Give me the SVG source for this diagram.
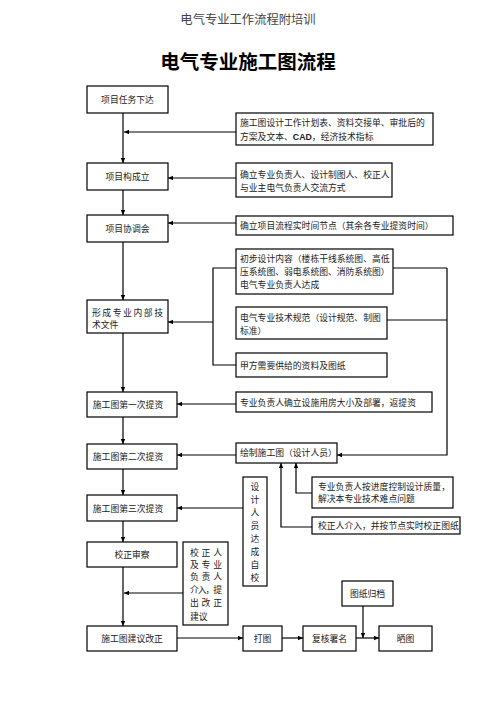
<svg xmlns="http://www.w3.org/2000/svg" width="496" height="702" viewBox="0 0 496 702">
<defs>
<marker id="ah" markerWidth="6" markerHeight="5" refX="5" refY="2.25" orient="auto" markerUnits="userSpaceOnUse">
<path d="M0,0 L5,2.25 L0,4.5 z" fill="#000"/>
</marker>
<style>
.b{fill:#fff;stroke:#000;stroke-width:1.2}
.t{font-family:"Noto Sans CJK SC","Noto Sans",sans-serif;font-size:8.8px;fill:#222}
.c{text-anchor:middle}
.l{fill:none;stroke:#000;stroke-width:1.2}
.a{fill:none;stroke:#000;stroke-width:1.2;marker-end:url(#ah)}
</style>
</defs>
<rect width="496" height="702" fill="#fff"/>
<text x="248" y="24" text-anchor="middle" font-family="Noto Sans CJK SC, sans-serif" font-size="12.3" fill="#444">电气专业工作流程附培训</text>
<text x="248" y="69" text-anchor="middle" font-family="Noto Sans CJK SC, sans-serif" font-size="19.5" font-weight="bold" fill="#000">电气专业施工图流程</text>

<g id="connectors">
<path class="a" d="M123,113 V163"/>
<path class="a" d="M123,190 V215"/>
<path class="a" d="M123,242 V300"/>
<path class="a" d="M123,333 V392"/>
<path class="a" d="M123,417 V444"/>
<path class="a" d="M123,469 V495"/>
<path class="a" d="M123,521 V542"/>
<path class="a" d="M123,567 V626"/>
<path class="a" d="M236,132 H124"/>
<path class="a" d="M236,178 H168"/>
<path class="a" d="M236,223 H168"/>
<path class="l" d="M236,268 H213 V365 H236"/>
<path class="a" d="M213,322 H168"/>
<path class="a" d="M236,404 H177"/>
<path class="a" d="M236,455 H177"/>
<path class="a" d="M243,508 H177"/>
<path class="a" d="M183,593 H124"/>
<path class="l" d="M393,268 H447"/>
<path class="l" d="M387,320 H447"/>
<path class="a" d="M447,268 V455 H337"/>
<path class="a" d="M312,493 H296 V463"/>
<path class="a" d="M312,527 H281 V463"/>
<path class="a" d="M177,638 H243"/>
<path class="a" d="M282,638 H303"/>
<path class="a" d="M356,638 H379"/>
<path class="a" d="M363,606 V638"/>
</g>

<g id="n1"><rect class="b" x="87" y="86" width="81" height="27"/><text class="t c" x="127.5" y="103">项目任务下达</text></g>
<g id="n2"><rect class="b" x="236" y="113" width="197" height="32"/><text class="t" x="240" y="126">施工图设计工作计划表、资料交接单、审批后的</text><text class="t" x="240" y="139.5">方案及文本、<tspan font-family="Liberation Sans, sans-serif" font-weight="bold">CAD</tspan>，经济技术指标</text></g>
<g id="n3"><rect class="b" x="87" y="163" width="81" height="27"/><text class="t c" x="127.5" y="180">项目构成立</text></g>
<g id="n4"><rect class="b" x="236" y="163" width="156" height="34"/><text class="t" x="240" y="178">确立专业负责人、设计制图人、校正人</text><text class="t" x="240" y="190.5">与业主电气负责人交流方式</text></g>
<g id="n5"><rect class="b" x="87" y="215" width="81" height="27"/><text class="t c" x="127.5" y="232">项目协调会</text></g>
<g id="n6"><rect class="b" x="236" y="216" width="217" height="19"/><text class="t" x="240" y="228.5">确立项目流程实时间节点（其余各专业提资时间）</text></g>
<g id="n7"><rect class="b" x="236" y="249" width="157" height="45"/><text class="t" x="240" y="261.5">初步设计内容（楼栋干线系统图、高低</text><text class="t" x="240" y="275">压系统图、弱电系统图、消防系统图）</text><text class="t" x="240" y="287.5">电气专业负责人达成</text></g>
<g id="n8"><rect class="b" x="87" y="300" width="81" height="33"/><text class="t" x="92" y="316" textLength="71" lengthAdjust="spacing">形成专业内部技</text><text class="t" x="92" y="328">术文件</text></g>
<g id="n9"><rect class="b" x="236" y="307" width="151" height="32"/><text class="t" x="240" y="320.5">电气专业技术规范（设计规范、制图</text><text class="t" x="240" y="333.5">标准）</text></g>
<g id="n10"><rect class="b" x="236" y="353" width="151" height="24"/><text class="t" x="240" y="369">甲方需要供给的资料及图纸</text></g>
<g id="n11"><rect class="b" x="87" y="392" width="90" height="25"/><text class="t c" x="128" y="408">施工图第一次提资</text></g>
<g id="n12"><rect class="b" x="236" y="392" width="196" height="20"/><text class="t" x="240" y="405.5">专业负责人确立设施用房大小及部署，返提资</text></g>
<g id="n13"><rect class="b" x="87" y="444" width="90" height="25"/><text class="t c" x="128" y="460">施工图第二次提资</text></g>
<g id="n14"><rect class="b" x="236" y="443" width="101" height="20"/><text class="t" x="240" y="456">绘制施工图（设计人员）</text></g>
<g id="n15"><rect class="b" x="87" y="495" width="90" height="26"/><text class="t c" x="128" y="511.5">施工图第三次提资</text></g>
<g id="n16"><rect class="b" x="243" y="477" width="24" height="109"/>
<text class="t c" x="255" y="489.5">设</text><text class="t c" x="255" y="502.5">计</text><text class="t c" x="255" y="515.5">人</text><text class="t c" x="255" y="528.5">员</text><text class="t c" x="255" y="541.5">达</text><text class="t c" x="255" y="554.5">成</text><text class="t c" x="255" y="567.5">自</text><text class="t c" x="255" y="580.5">校</text></g>
<g id="n17"><rect class="b" x="312" y="477" width="141" height="31"/><text class="t" x="318" y="489.5">专业负责人按进度控制设计质量，</text><text class="t" x="318" y="501.5">解决本专业技术难点问题</text></g>
<g id="n18"><rect class="b" x="312" y="517" width="148" height="17"/><text class="t" x="318" y="528.5">校正人介入，并按节点实时校正图纸</text></g>
<g id="n19"><rect class="b" x="87" y="542" width="90" height="25"/><text class="t c" x="132" y="558">校正审察</text></g>
<g id="n20"><rect class="b" x="183" y="542" width="45" height="83"/>
<text class="t" x="190" y="555.5" textLength="32" lengthAdjust="spacing">校正人</text>
<text class="t" x="190" y="567.5" textLength="32" lengthAdjust="spacing">及专业</text>
<text class="t" x="190" y="580" textLength="32" lengthAdjust="spacing">负责人</text>
<text class="t" x="190" y="593" textLength="32" lengthAdjust="spacing">介入，提</text>
<text class="t" x="190" y="606" textLength="32" lengthAdjust="spacing">出改正</text>
<text class="t" x="190" y="619.5">建议</text></g>
<g id="n21"><rect class="b" x="87" y="626" width="90" height="25"/><text class="t c" x="132" y="642">施工图建议改正</text></g>
<g id="n22"><rect class="b" x="243" y="626" width="39" height="25"/><text class="t c" x="262.5" y="642">打图</text></g>
<g id="n23"><rect class="b" x="303" y="626" width="53" height="25"/><text class="t c" x="329.5" y="642">复核署名</text></g>
<g id="n24"><rect class="b" x="379" y="626" width="53" height="25"/><text class="t c" x="405.5" y="642">晒图</text></g>
<g id="n25"><rect class="b" x="342" y="581" width="51" height="25"/><text class="t c" x="367.5" y="597">图纸归档</text></g>
</svg>
